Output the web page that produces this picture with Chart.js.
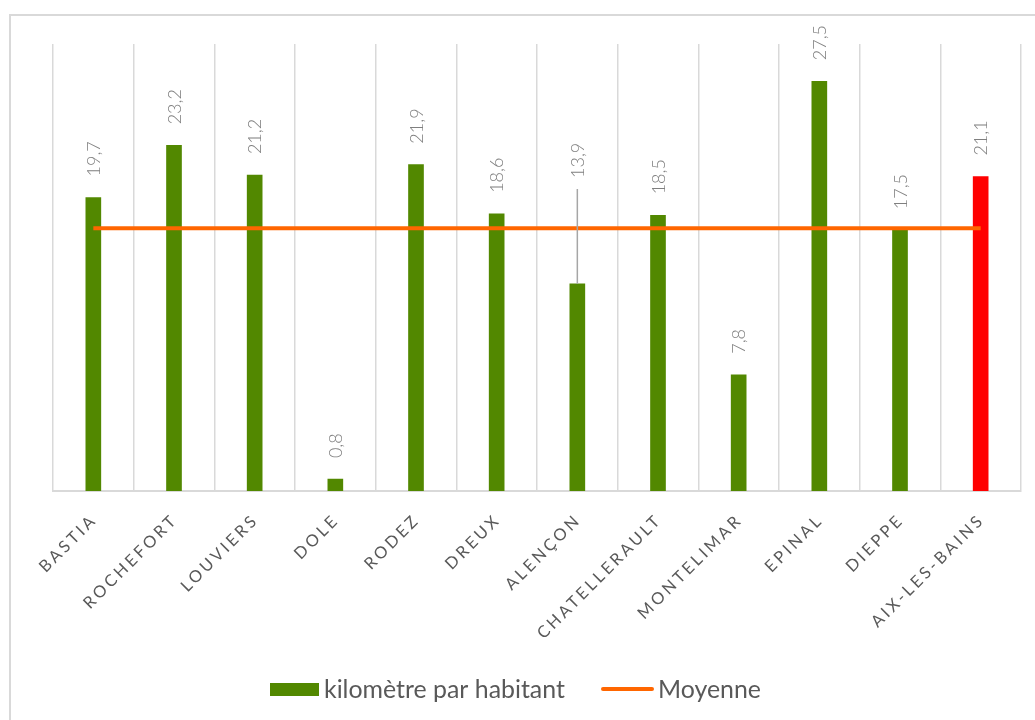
<!DOCTYPE html>
<html><head><meta charset="utf-8">
<script src="https://cdn.jsdelivr.net/npm/chart.js@4/dist/chart.umd.min.js"></script>
<style>html,body{margin:0;padding:0;background:#fff;}#wrap{width:1035px;height:720px;}</style>
</head><body><div id="wrap"><canvas id="c" width="1035" height="720"></canvas></div>
<script>
const categories = ["BASTIA","ROCHEFORT","LOUVIERS","DOLE","RODEZ","DREUX","ALENÇON","CHATELLERAULT","MONTELIMAR","EPINAL","DIEPPE","AIX-LES-BAINS"];
const kmParHabitant = [19.7,23.2,21.2,0.8,21.9,18.6,13.9,18.5,7.8,27.5,17.5,21.1];
const moyenne = [17.64,17.64,17.64,17.64,17.64,17.64,17.64,17.64,17.64,17.64,17.64,17.64];
const barColors = ["#528800","#528800","#528800","#528800","#528800","#528800","#528800","#528800","#528800","#528800","#528800","#FF0000"];
const seriesNames = ["kilomètre par habitant","Moyenne"];

const LABEL_FONT = '300 18px "Lato", "Open Sans", sans-serif';
const TICK_FONT = '16.5px "Lato", "Open Sans", sans-serif';

function fitFont(ctx, text, width, family) {
  let size = 20;
  ctx.font = size + 'px ' + family;
  const w = ctx.measureText(text).width;
  size = size * width / w;
  return size;
}

const decorPlugin = {
  id: 'decor',
  beforeDraw(chart) {
    const ctx = chart.ctx;
    ctx.save();
    ctx.strokeStyle = '#d9d9d9';
    ctx.lineWidth = 2;
    ctx.strokeRect(10, 15, chart.width + 20, chart.height + 20);
    ctx.restore();
  },
  afterDatasetsDraw(chart) {
    const ctx = chart.ctx;
    const meta = chart.getDatasetMeta(1);
    ctx.save();
    ctx.font = LABEL_FONT;
    ctx.fillStyle = '#7f7f7f';
    ctx.textAlign = 'left';
    ctx.textBaseline = 'middle';
    meta.data.forEach((bar, i) => {
      const txt = kmParHabitant[i].toFixed(1).replace('.', ',');
      let start = bar.y - 21;
      if (i === 6) {
        const lineTop = 189;
        ctx.strokeStyle = '#a6a6a6';
        ctx.lineWidth = 1.5;
        ctx.beginPath();
        ctx.moveTo(bar.x, lineTop);
        ctx.lineTo(bar.x, bar.y);
        ctx.stroke();
        start = 178;
      }
      ctx.save();
      ctx.translate(bar.x + 1, start);
      ctx.rotate(-Math.PI / 2);
      ctx.fillText(txt, 0, 0);
      ctx.restore();
    });
    ctx.restore();
  },
  afterDraw(chart) {
    const ctx = chart.ctx;
    const xs = chart.scales.x;
    ctx.save();
    ctx.font = TICK_FONT;
    ctx.fillStyle = '#595959';
    ctx.letterSpacing = '3px';
    ctx.textAlign = 'right';
    ctx.textBaseline = 'middle';
    categories.forEach((c, i) => {
      const x = xs.getPixelForValue(i);
      ctx.save();
      ctx.translate(x + 1, xs.top + 26);
      ctx.rotate(-Math.PI / 4);
      ctx.fillText(c, 0, 0);
      ctx.restore();
    });
    ctx.restore();
    // legend
    ctx.save();
    const fam = '"Lato", "Open Sans", sans-serif';
    const fs = fitFont(ctx, seriesNames[0], 241, fam);
    ctx.font = fs + 'px ' + fam;
    ctx.fillStyle = '#528800';
    ctx.fillRect(270, 683, 49, 13);
    ctx.fillStyle = '#595959';
    ctx.textBaseline = 'alphabetic';
    ctx.textAlign = 'left';
    ctx.fillText(seriesNames[0], 324, 698);
    ctx.strokeStyle = '#FF6600';
    ctx.lineWidth = 4;
    ctx.lineCap = 'round';
    ctx.beginPath();
    ctx.moveTo(603, 689);
    ctx.lineTo(652, 689);
    ctx.stroke();
    ctx.fillText(seriesNames[1], 658, 698);
    ctx.restore();
  }
};

new Chart(document.getElementById('c'), {
  data: {
    labels: categories,
    datasets: [
      { type: 'line', label: seriesNames[1], data: moyenne, borderColor: '#FF6600', borderWidth: 4, pointRadius: 0, fill: false, order: 0 },
      { type: 'bar', label: seriesNames[0], data: kmParHabitant, backgroundColor: barColors, barThickness: 15, order: 1 }
    ]
  },
  options: {
    responsive: false,
    animation: false,
    layout: { padding: { left: 53, right: 14, top: 44, bottom: 0 } },
    plugins: { legend: { display: false }, tooltip: { enabled: false } },
    scales: {
      x: {
        offset: true,
        grid: { display: true, offset: true, color: '#d9d9d9', lineWidth: 1.5, drawTicks: false },
        border: { display: true, color: '#d9d9d9', width: 2 },
        ticks: { display: false },
        afterFit(s) { s.height = 229; }
      },
      y: { display: false, min: 0, max: 30 }
    }
  },
  plugins: [decorPlugin]
});
</script>
</body></html>
